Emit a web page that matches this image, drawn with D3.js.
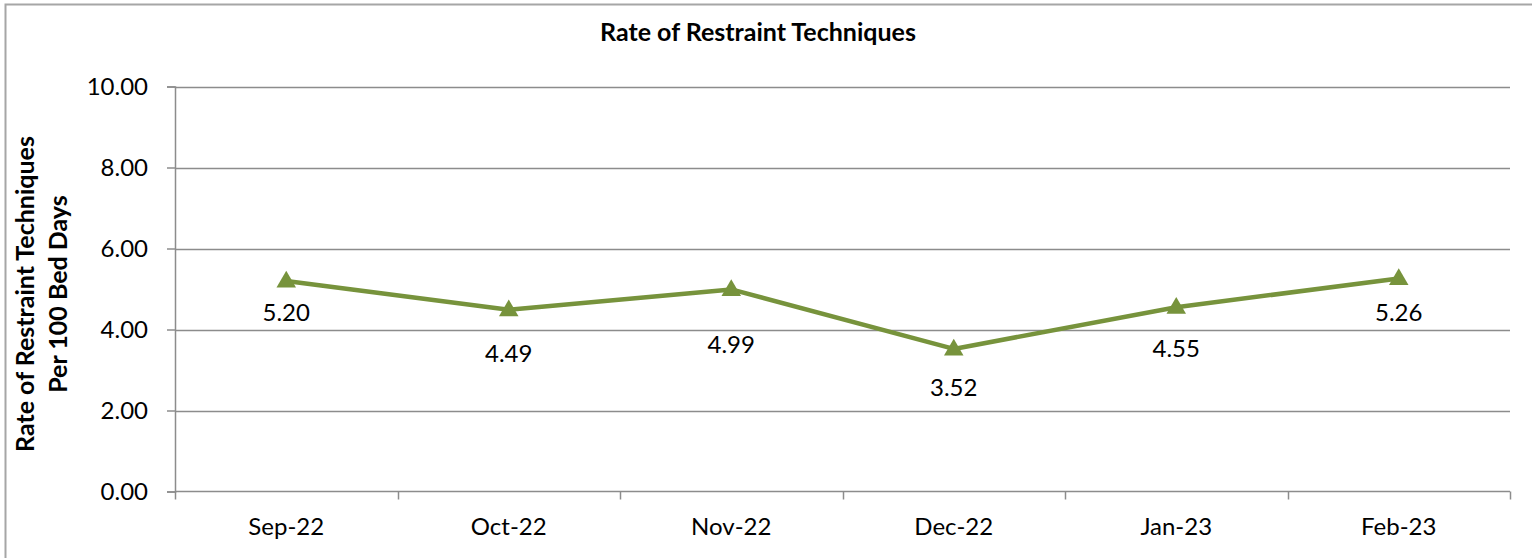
<!DOCTYPE html>
<html>
<head>
<meta charset="utf-8">
<script src="https://cdn.jsdelivr.net/npm/d3@7"></script>
<style>
  body { margin: 0; background: #fff; }
  svg { display: block; font-family: Lato, "Open Sans", sans-serif; }
</style>
</head>
<body>
<svg id="chart" width="1532" height="558"></svg>
<script>
// data
const months = ["Sep-22", "Oct-22", "Nov-22", "Dec-22", "Jan-23", "Feb-23"];
const rates = [5.20, 4.49, 4.99, 3.52, 4.55, 5.26];
const yTicks = [0, 2, 4, 6, 8, 10];

const W = 1532, H = 558;
const margin = { left: 175, right: 22, top: 86.5, bottom: 66.5 };
const green = "#77933C";
const grid = "#8c8c8c";

// labels in the original were nudged by hand, keep the same offsets
const labelDy = [32, 44, 56, 39, 42, 35];

const svg = d3.select("#chart");

// outer chart border (right/bottom run off the picture)
svg.append("rect")
  .attr("x", 5.5).attr("y", 4.5)
  .attr("width", W + 20).attr("height", H + 20)
  .attr("fill", "none")
  .attr("stroke", "#a6a6a6")
  .attr("stroke-width", 2);

const x = d3.scaleBand()
  .domain(months)
  .range([margin.left, W - margin.right])
  .paddingInner(0).paddingOuter(0);

const y = d3.scaleLinear()
  .domain([0, 10])
  .range([H - margin.bottom, margin.top]);

// horizontal gridlines
svg.append("g")
  .selectAll("line")
  .data(yTicks.filter(d => d > 0))
  .join("line")
  .attr("x1", margin.left).attr("x2", W - margin.right)
  .attr("y1", d => Math.round(y(d)) + 0.5).attr("y2", d => Math.round(y(d)) + 0.5)
  .attr("stroke", grid).attr("stroke-width", 1.5);

// y axis
const yAxis = svg.append("g")
  .attr("transform", `translate(${margin.left},0)`)
  .call(d3.axisLeft(y).tickValues(yTicks).tickFormat(d3.format(".2f")).tickSize(8).tickPadding(19));
yAxis.select(".domain").attr("stroke", grid).attr("stroke-width", 1.5);
yAxis.selectAll(".tick line").attr("stroke", grid).attr("stroke-width", 1.5);
yAxis.selectAll(".tick text")
  .attr("fill", "#000")
  .style("font-size", "24px")
  .style("font-family", "Lato, sans-serif");

// x axis, ticks sit between categories
const xAxisG = svg.append("g")
  .attr("transform", `translate(0,${y(0)})`);
xAxisG.append("line")
  .attr("x1", margin.left).attr("x2", W - margin.right)
  .attr("stroke", grid).attr("stroke-width", 1.5);
const bounds = months.map(m => x(m)).concat([W - margin.right]);
xAxisG.selectAll(".xt")
  .data(bounds)
  .join("line")
  .attr("class", "xt")
  .attr("x1", d => Math.round(d) + 0.5).attr("x2", d => Math.round(d) + 0.5)
  .attr("y1", 0).attr("y2", 8)
  .attr("stroke", grid).attr("stroke-width", 1.5);
xAxisG.selectAll(".xl")
  .data(months)
  .join("text")
  .attr("class", "xl")
  .attr("x", d => x(d) + x.bandwidth() / 2)
  .attr("y", 43)
  .attr("text-anchor", "middle")
  .style("font-size", "24px")
  .text(d => d);

// line + markers
const cx = (d, i) => x(months[i]) + x.bandwidth() / 2;
const line = d3.line()
  .x((d, i) => cx(d, i))
  .y(d => y(d));

svg.append("path")
  .datum(rates)
  .attr("d", line)
  .attr("fill", "none")
  .attr("stroke", green)
  .attr("stroke-width", 4.5)
  .attr("stroke-linejoin", "round");

svg.append("g")
  .selectAll("path")
  .data(rates)
  .join("path")
  .attr("transform", (d, i) => `translate(${cx(d, i)},${y(d) + 1})`)
  .attr("d", d3.symbol(d3.symbolTriangle, 165))
  .attr("fill", green);

// value labels
svg.append("g")
  .selectAll("text")
  .data(rates)
  .join("text")
  .attr("x", (d, i) => cx(d, i))
  .attr("y", (d, i) => y(d) + labelDy[i] + 8)
  .attr("text-anchor", "middle")
  .style("font-size", "24px")
  .text(d => d.toFixed(2));

// title
svg.append("text")
  .attr("x", 758).attr("y", 41)
  .attr("text-anchor", "middle")
  .style("font-size", "25px")
  .style("font-weight", "bold")
  .text("Rate of Restraint Techniques");

// y axis title, two lines
const yt = svg.append("text")
  .attr("transform", `translate(0,${(margin.top + y(0)) / 2 + 5}) rotate(-90)`)
  .attr("text-anchor", "middle")
  .style("font-size", "25px")
  .style("font-weight", "bold");
yt.append("tspan").attr("x", 0).attr("y", 34).text("Rate of Restraint Techniques");
yt.append("tspan").attr("x", 0).attr("y", 67).text("Per 100 Bed Days");
</script>
</body>
</html>
